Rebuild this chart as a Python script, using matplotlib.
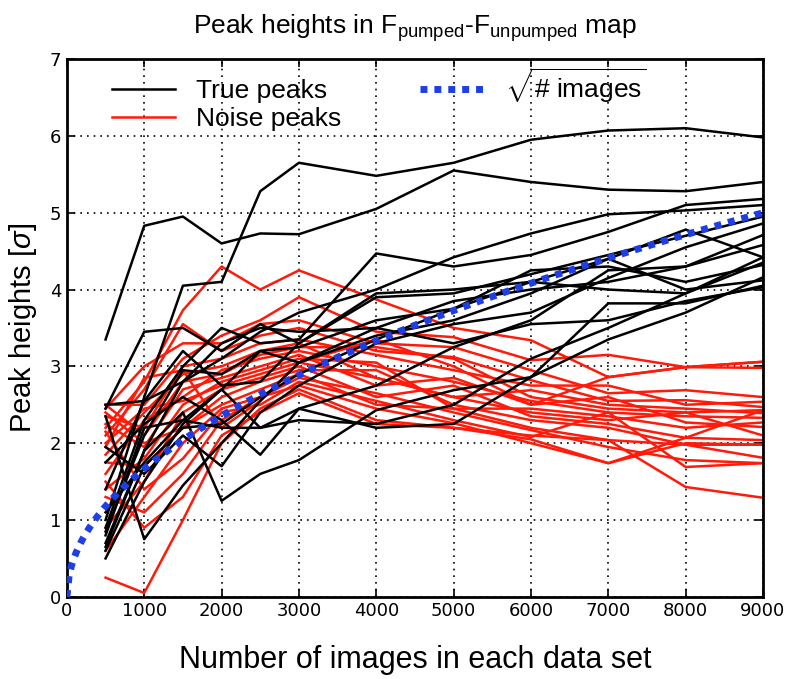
import matplotlib
matplotlib.use("Agg")
import matplotlib.pyplot as plt
import numpy as np

# number of images in each data set
n_images = [500, 1000, 1500, 2000, 2500, 3000, 4000, 5000, 6000, 7000, 8000, 9000]

# true peaks (black)
true_peaks = [
    [1.00, 2.60, 4.05, 4.10, 5.28, 5.65, 5.48, 5.65, 5.95, 6.07, 6.10, 5.98],
    [3.35, 4.83, 4.95, 4.60, 4.73, 4.72, 5.05, 5.55, 5.40, 5.30, 5.28, 5.40],
    [0.90, 2.30, 3.00, 3.50, 3.30, 3.35, 4.47, 4.30, 4.45, 4.75, 5.10, 5.18],
    [0.70, 1.90, 2.80, 3.10, 3.45, 3.70, 4.00, 4.42, 4.73, 4.98, 5.03, 5.10],
    [2.45, 3.45, 3.50, 3.20, 3.55, 3.30, 3.90, 3.95, 4.20, 4.45, 4.70, 4.95],
    [0.60, 1.70, 2.20, 2.25, 2.60, 2.90, 3.35, 3.75, 4.10, 4.40, 4.78, 4.42],
    [0.80, 2.20, 2.30, 2.20, 2.20, 2.45, 2.20, 2.25, 2.86, 3.82, 3.82, 4.05],
    [2.35, 0.75, 1.45, 2.00, 2.55, 3.05, 3.50, 3.85, 4.00, 4.10, 4.30, 4.71],
    [1.95, 1.60, 2.10, 1.70, 2.40, 2.75, 3.30, 3.55, 3.70, 4.15, 4.55, 4.86],
    [1.75, 2.25, 2.60, 2.30, 1.85, 2.45, 2.75, 3.25, 3.60, 4.25, 4.30, 4.58],
    [0.85, 2.10, 2.95, 2.90, 3.20, 3.25, 3.60, 3.75, 4.25, 4.30, 4.10, 4.32],
    [0.65, 1.90, 2.40, 1.25, 1.60, 1.78, 2.43, 2.69, 2.86, 3.35, 3.70, 4.16],
    [1.40, 2.55, 3.20, 2.75, 2.80, 3.30, 3.95, 4.00, 4.10, 4.00, 3.95, 4.42],
    [0.50, 1.50, 2.25, 2.70, 3.20, 3.05, 3.40, 3.60, 3.95, 4.40, 4.00, 4.12],
    [2.50, 2.55, 2.80, 3.30, 3.50, 3.45, 3.50, 3.30, 3.55, 3.60, 3.85, 4.03],
    [1.10, 1.75, 2.30, 2.70, 2.20, 2.30, 2.25, 2.50, 3.10, 3.50, 3.95, 4.35],
]

# noise peaks (red)
noise_peaks = [
    [2.20, 2.80, 3.73, 4.30, 4.00, 4.25, 3.87, 3.50, 3.34, 2.86, 2.99, 2.98],
    [2.50, 2.50, 3.10, 3.40, 3.60, 3.90, 3.45, 3.38, 3.08, 3.15, 2.99, 3.06],
    [2.45, 3.00, 3.30, 3.30, 3.55, 3.60, 3.30, 3.25, 2.95, 2.65, 2.69, 2.60],
    [2.10, 2.70, 3.55, 3.20, 3.40, 3.50, 3.20, 3.12, 2.82, 2.55, 2.56, 2.47],
    [2.35, 2.20, 3.00, 3.10, 3.30, 3.35, 3.15, 2.95, 2.75, 2.75, 2.50, 2.54],
    [1.85, 2.40, 2.90, 3.00, 3.20, 3.30, 2.85, 2.60, 2.69, 2.50, 2.45, 2.39],
    [2.50, 2.10, 2.80, 2.90, 3.15, 3.25, 3.25, 3.10, 2.60, 2.45, 2.40, 2.43],
    [1.60, 2.30, 2.60, 2.95, 3.10, 3.20, 3.00, 2.80, 2.55, 2.40, 2.35, 2.33],
    [2.25, 1.95, 2.70, 2.85, 3.00, 3.15, 2.75, 2.85, 2.50, 2.60, 2.27, 2.21],
    [1.40, 1.80, 2.50, 2.80, 2.95, 3.10, 3.05, 2.45, 2.45, 2.35, 2.20, 2.27],
    [2.00, 2.45, 2.55, 2.75, 2.90, 3.05, 2.85, 2.60, 2.40, 2.30, 2.40, 2.10],
    [0.90, 1.50, 2.40, 2.70, 2.85, 3.00, 2.60, 2.75, 2.35, 2.25, 2.07, 2.04],
    [2.40, 2.00, 2.20, 2.60, 2.80, 2.95, 2.95, 2.50, 2.30, 2.20, 1.98, 1.98],
    [1.75, 1.70, 2.20, 2.50, 2.70, 2.90, 2.50, 2.45, 2.20, 2.04, 1.98, 1.81],
    [0.60, 1.30, 2.00, 2.45, 2.60, 2.85, 2.65, 2.40, 2.17, 1.95, 1.78, 1.74],
    [2.15, 1.40, 1.80, 2.40, 2.50, 2.80, 2.55, 2.30, 2.08, 2.40, 1.69, 1.74],
    [1.30, 1.10, 1.60, 2.30, 2.60, 2.75, 2.45, 2.26, 2.00, 1.74, 2.07, 2.43],
    [0.25, 0.05, 1.00, 2.00, 2.45, 2.70, 2.30, 2.20, 2.10, 2.04, 1.43, 1.29],
    [1.50, 0.90, 1.30, 2.10, 2.40, 2.65, 2.25, 2.20, 2.05, 1.74, 2.00, 1.98],
    [1.95, 2.85, 2.95, 2.20, 2.55, 3.05, 3.35, 3.00, 2.50, 2.86, 2.99, 3.06],
]

# reference curve: sqrt(# images), scaled to 5 sigma at 9000 images
sqrt_x = np.linspace(0, 9000, 300)
sqrt_y = 5.0 * np.sqrt(sqrt_x / 9000.0)

plt.rcParams['font.family'] = ['Liberation Sans', 'DejaVu Sans']
plt.rcParams['mathtext.fontset'] = 'custom'
plt.rcParams['mathtext.rm'] = 'Liberation Sans'
plt.rcParams['mathtext.it'] = 'Liberation Sans:italic'

fig = plt.figure(figsize=(7.87, 6.79), dpi=100)
ax = fig.add_axes([0.085, 0.121, 0.8845, 0.792])

for i, ys in enumerate(noise_peaks):
    ax.plot(n_images, ys, color='#ff1a0a', lw=1.8,
            label='Noise peaks' if i == 0 else None, zorder=2)
for i, ys in enumerate(true_peaks):
    ax.plot(n_images, ys, color='black', lw=1.8,
            label='True peaks' if i == 0 else None, zorder=3)
ax.plot(sqrt_x, sqrt_y, color='#1f3fe6', lw=5, linestyle=(0, (1, 1)),
        label=r'$\sqrt{\mathrm{\#\ images}}$', zorder=4)

ax.set_xlim(0, 9000)
ax.set_ylim(0, 7)
ax.set_xticks(range(0, 9001, 1000))
ax.set_yticks(range(0, 8))
ax.grid(True, color='black', linestyle=(0, (1, 3)), lw=1.2)
ax.tick_params(direction='in', length=6, width=1.2, top=True, right=True,
               labelsize=13, pad=4)
for lab in ax.get_xticklabels() + ax.get_yticklabels():
    lab.set_family('DejaVu Sans')
for s in ax.spines.values():
    s.set_linewidth(2)

ax.set_title(r'Peak heights in F$_{\mathrm{pumped}}$-F$_{\mathrm{unpumped}}$ map',
             fontsize=19, pad=18)
ax.set_xlabel('Number of images in each data set', fontsize=22, labelpad=18)
ax.set_ylabel(r'Peak heights [$\sigma$]', fontsize=21, labelpad=8)

h, l = ax.get_legend_handles_labels()
order = [1, 0, 2]
ax.legend([h[k] for k in order], [l[k] for k in order], ncol=2, frameon=False,
          loc='upper left', bbox_to_anchor=(0.03, 1.03), fontsize=19,
          handlelength=2.4, columnspacing=3.0, labelspacing=0.15,
          handletextpad=0.8)

fig.savefig('out.png', dpi=100)
